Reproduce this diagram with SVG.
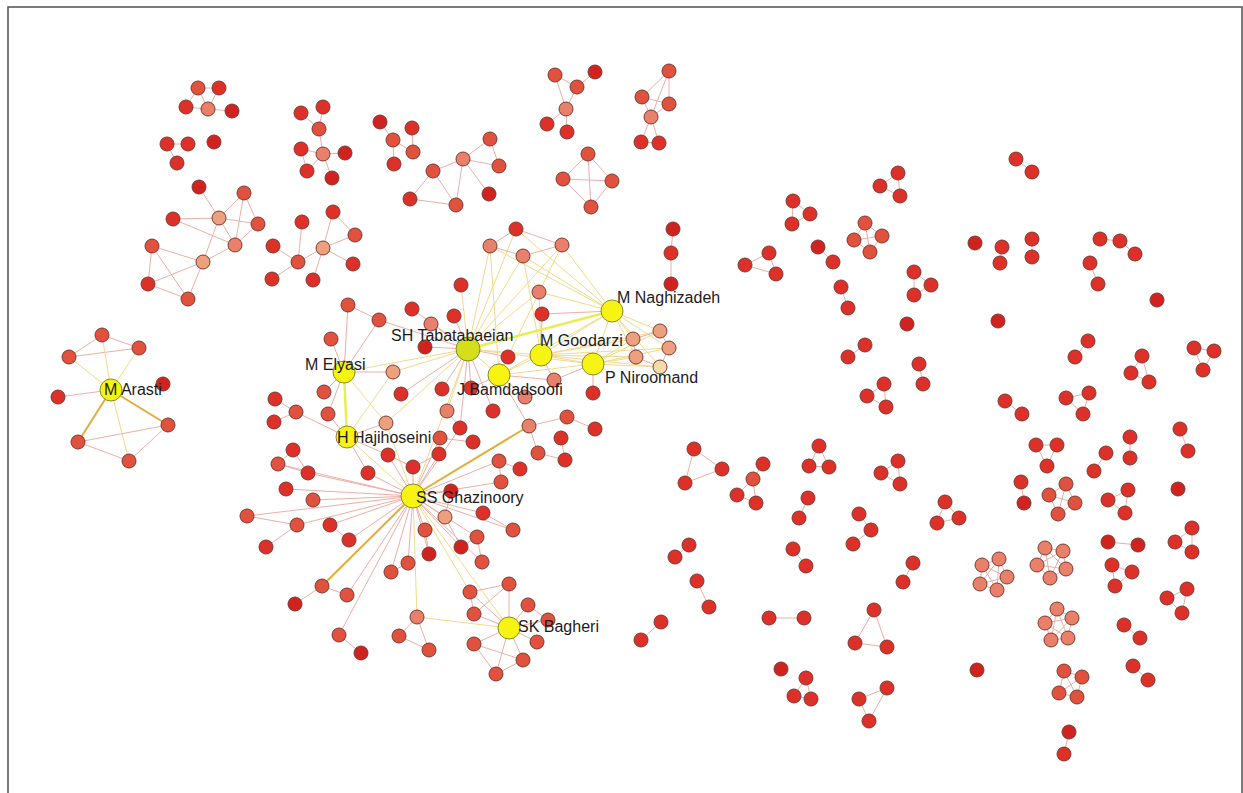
<svg xmlns="http://www.w3.org/2000/svg" width="1243" height="793" viewBox="0 0 1243 793">
<style>
.frame{fill:none;stroke:#5a5a5a;stroke-width:1.6}
line{stroke:#ecaea6;stroke-width:1}
line.y{stroke:#f2d98a}
line.Y{stroke:#e9ec52;stroke-width:2.4}
line.g{stroke:#e2ad3a;stroke-width:2}
circle{stroke:#7c3a33;stroke-width:1}
.r{fill:#dc3029}
.d{fill:#d0231f}
.o{fill:#e0513e}
.p{fill:#e8806a}
.q{fill:#eda07e}
.w{fill:#f4dca6}
.y{fill:#f7f313;stroke:#8a8a2a}
.t{fill:#d5de1d;stroke:#7f8a2a}
text{font-family:"Liberation Sans",Arial,sans-serif;font-size:16px;fill:#1b1b1b}
</style>
<rect width="1243" height="793" fill="#ffffff"/>
<rect class="frame" x="8" y="7" width="1234" height="800"/>
<g id="connectors">
<line x1="198" y1="88" x2="219" y2="88"/><line x1="198" y1="88" x2="186" y2="107"/><line x1="186" y1="107" x2="208" y2="109"/><line x1="219" y1="88" x2="208" y2="109"/><line x1="208" y1="109" x2="232" y2="111"/><line x1="198" y1="88" x2="208" y2="109"/>
<line x1="167" y1="144" x2="188" y2="144"/><line x1="167" y1="144" x2="177" y2="163"/>
<line x1="199" y1="187" x2="219" y2="218"/><line x1="244" y1="193" x2="219" y2="218"/><line x1="244" y1="193" x2="258" y2="224"/><line x1="244" y1="193" x2="235" y2="245"/><line x1="173" y1="219" x2="219" y2="218"/><line x1="173" y1="219" x2="235" y2="245"/><line x1="219" y1="218" x2="258" y2="224"/><line x1="219" y1="218" x2="235" y2="245"/><line x1="219" y1="218" x2="203" y2="262"/><line x1="258" y1="224" x2="235" y2="245"/><line x1="152" y1="246" x2="203" y2="262"/><line x1="152" y1="246" x2="148" y2="284"/><line x1="152" y1="246" x2="188" y2="299"/><line x1="148" y1="284" x2="203" y2="262"/><line x1="148" y1="284" x2="188" y2="299"/><line x1="203" y1="262" x2="188" y2="299"/><line x1="235" y1="245" x2="203" y2="262"/>
<line x1="333" y1="212" x2="355" y2="235"/><line x1="333" y1="212" x2="323" y2="248"/><line x1="355" y1="235" x2="323" y2="248"/><line x1="302" y1="222" x2="298" y2="262"/><line x1="273" y1="246" x2="298" y2="262"/><line x1="323" y1="248" x2="298" y2="262"/><line x1="323" y1="248" x2="353" y2="264"/><line x1="298" y1="262" x2="272" y2="279"/><line x1="323" y1="248" x2="313" y2="280"/>
<line x1="301" y1="113" x2="319" y2="129"/><line x1="323" y1="107" x2="319" y2="129"/><line x1="319" y1="129" x2="323" y2="154"/><line x1="301" y1="149" x2="323" y2="154"/><line x1="345" y1="153" x2="323" y2="154"/><line x1="307" y1="171" x2="323" y2="154"/><line x1="332" y1="178" x2="323" y2="154"/><line x1="301" y1="149" x2="307" y2="171"/>
<line x1="380" y1="122" x2="393" y2="140"/><line x1="412" y1="128" x2="413" y2="152"/><line x1="393" y1="140" x2="413" y2="152"/><line x1="393" y1="140" x2="394" y2="164"/>
<line x1="463" y1="159" x2="490" y2="139"/><line x1="490" y1="139" x2="499" y2="166"/><line x1="463" y1="159" x2="499" y2="166"/><line x1="463" y1="159" x2="433" y2="171"/><line x1="463" y1="159" x2="489" y2="194"/><line x1="463" y1="159" x2="456" y2="205"/><line x1="433" y1="171" x2="410" y2="199"/><line x1="433" y1="171" x2="456" y2="205"/><line x1="410" y1="199" x2="456" y2="205"/>
<line x1="555" y1="75" x2="566" y2="109"/><line x1="555" y1="75" x2="577" y2="87"/><line x1="577" y1="87" x2="595" y2="72"/><line x1="577" y1="87" x2="566" y2="109"/><line x1="566" y1="109" x2="547" y2="124"/><line x1="566" y1="109" x2="567" y2="132"/>
<line x1="588" y1="154" x2="563" y2="179"/><line x1="588" y1="154" x2="612" y2="181"/><line x1="588" y1="154" x2="591" y2="207"/><line x1="563" y1="179" x2="612" y2="181"/><line x1="563" y1="179" x2="591" y2="207"/><line x1="612" y1="181" x2="591" y2="207"/>
<line x1="669" y1="71" x2="642" y2="97"/><line x1="669" y1="71" x2="669" y2="104"/><line x1="669" y1="71" x2="651" y2="117"/><line x1="642" y1="97" x2="669" y2="104"/><line x1="669" y1="104" x2="651" y2="117"/><line x1="642" y1="97" x2="651" y2="117"/><line x1="651" y1="117" x2="641" y2="142"/><line x1="651" y1="117" x2="659" y2="143"/><line x1="641" y1="142" x2="659" y2="143"/>
<line x1="102" y1="335" x2="139" y2="348"/><line x1="69" y1="357" x2="102" y2="335"/><line x1="69" y1="357" x2="139" y2="348"/>
<line class="y" x1="111" y1="390" x2="102" y2="335"/><line class="y" x1="111" y1="390" x2="139" y2="348"/><line class="y" x1="111" y1="390" x2="69" y2="357"/><line x1="111" y1="390" x2="58" y2="397"/><line class="g" x1="111" y1="390" x2="168" y2="425"/><line class="g" x1="111" y1="390" x2="78" y2="442"/><line class="y" x1="111" y1="390" x2="129" y2="461"/>
<line x1="78" y1="442" x2="168" y2="425"/><line x1="78" y1="442" x2="129" y2="461"/><line x1="129" y1="461" x2="168" y2="425"/>
<line class="y" x1="468" y1="349" x2="461" y2="285"/><line class="y" x1="468" y1="349" x2="431" y2="324"/><line x1="468" y1="349" x2="454" y2="316"/><line x1="468" y1="349" x2="412" y2="309"/><line x1="468" y1="349" x2="425" y2="347"/><line class="y" x1="468" y1="349" x2="393" y2="372"/><line x1="468" y1="349" x2="401" y2="394"/><line x1="468" y1="349" x2="442" y2="389"/><line x1="468" y1="349" x2="471" y2="388"/><line x1="468" y1="349" x2="493" y2="411"/><line class="y" x1="468" y1="349" x2="447" y2="411"/><line class="y" x1="468" y1="349" x2="490" y2="246"/><line class="y" x1="468" y1="349" x2="516" y2="229"/><line class="y" x1="468" y1="349" x2="523" y2="256"/><line class="y" x1="468" y1="349" x2="562" y2="245"/><line class="y" x1="468" y1="349" x2="539" y2="292"/><line x1="468" y1="349" x2="508" y2="357"/><line class="y" x1="468" y1="349" x2="386" y2="423"/><line x1="468" y1="349" x2="460" y2="428"/><line x1="468" y1="349" x2="379" y2="320"/>
<line class="y" x1="612" y1="311" x2="562" y2="245"/><line class="y" x1="612" y1="311" x2="523" y2="256"/><line class="y" x1="612" y1="311" x2="539" y2="292"/><line x1="612" y1="311" x2="542" y2="314"/><line class="y" x1="612" y1="311" x2="633" y2="339"/><line class="y" x1="612" y1="311" x2="660" y2="331"/><line class="y" x1="612" y1="311" x2="669" y2="348"/><line class="y" x1="612" y1="311" x2="636" y2="357"/><line class="y" x1="612" y1="311" x2="660" y2="367"/><line class="y" x1="612" y1="311" x2="516" y2="229"/><line class="y" x1="612" y1="311" x2="490" y2="246"/>
<line class="y" x1="541" y1="355" x2="633" y2="339"/><line class="y" x1="541" y1="355" x2="660" y2="331"/><line class="y" x1="541" y1="355" x2="669" y2="348"/><line class="y" x1="541" y1="355" x2="636" y2="357"/><line class="y" x1="541" y1="355" x2="660" y2="367"/><line x1="541" y1="355" x2="554" y2="380"/><line x1="541" y1="355" x2="542" y2="314"/><line class="y" x1="541" y1="355" x2="539" y2="292"/><line class="y" x1="541" y1="355" x2="523" y2="256"/>
<line class="y" x1="593" y1="364" x2="633" y2="339"/><line class="y" x1="593" y1="364" x2="660" y2="331"/><line class="y" x1="593" y1="364" x2="669" y2="348"/><line class="y" x1="593" y1="364" x2="636" y2="357"/><line class="y" x1="593" y1="364" x2="660" y2="367"/><line x1="593" y1="364" x2="554" y2="380"/><line x1="593" y1="364" x2="593" y2="393"/>
<line x1="499" y1="375" x2="525" y2="397"/><line x1="499" y1="375" x2="554" y2="380"/><line x1="499" y1="375" x2="508" y2="357"/><line x1="499" y1="375" x2="471" y2="388"/><line x1="499" y1="375" x2="529" y2="426"/><line class="y" x1="499" y1="375" x2="562" y2="245"/><line class="y" x1="499" y1="375" x2="490" y2="246"/>
<line class="y" x1="468" y1="349" x2="541" y2="355"/><line class="y" x1="468" y1="349" x2="499" y2="375"/><line class="y" x1="468" y1="349" x2="593" y2="364"/><line class="y" x1="612" y1="311" x2="541" y2="355"/><line class="y" x1="612" y1="311" x2="499" y2="375"/><line class="y" x1="612" y1="311" x2="593" y2="364"/><line class="y" x1="541" y1="355" x2="499" y2="375"/><line class="y" x1="541" y1="355" x2="593" y2="364"/><line class="y" x1="499" y1="375" x2="593" y2="364"/>
<line x1="490" y1="246" x2="516" y2="229"/><line x1="490" y1="246" x2="523" y2="256"/><line x1="523" y1="256" x2="562" y2="245"/><line x1="516" y1="229" x2="562" y2="245"/>
<line x1="633" y1="339" x2="660" y2="331"/><line x1="633" y1="339" x2="636" y2="357"/><line x1="660" y1="331" x2="669" y2="348"/><line x1="636" y1="357" x2="660" y2="367"/><line x1="669" y1="348" x2="660" y2="367"/>
<line class="Y" x1="468" y1="349" x2="612" y2="311"/>
<line class="y" x1="468" y1="349" x2="344" y2="372"/>
<line x1="344" y1="372" x2="348" y2="305"/><line x1="344" y1="372" x2="331" y2="339"/><line x1="344" y1="372" x2="324" y2="392"/><line x1="344" y1="372" x2="328" y2="414"/><line x1="344" y1="372" x2="393" y2="372"/><line class="y" x1="344" y1="372" x2="386" y2="423"/><line x1="344" y1="372" x2="379" y2="320"/><line x1="348" y1="305" x2="379" y2="320"/>
<line class="Y" x1="344" y1="372" x2="347" y2="437"/>
<line x1="347" y1="437" x2="386" y2="423"/><line x1="347" y1="437" x2="328" y2="414"/><line x1="347" y1="437" x2="296" y2="412"/><line x1="347" y1="437" x2="388" y2="455"/><line x1="347" y1="437" x2="368" y2="473"/><line class="y" x1="347" y1="437" x2="393" y2="372"/>
<line x1="296" y1="412" x2="275" y2="399"/><line x1="296" y1="412" x2="274" y2="422"/><line x1="293" y1="450" x2="278" y2="464"/><line x1="293" y1="450" x2="308" y2="473"/><line x1="278" y1="464" x2="308" y2="473"/>
<line x1="413" y1="496" x2="308" y2="473"/><line x1="413" y1="496" x2="286" y2="489"/><line x1="413" y1="496" x2="278" y2="464"/><line x1="413" y1="496" x2="313" y2="500"/><line x1="413" y1="496" x2="330" y2="525"/><line x1="413" y1="496" x2="297" y2="525"/><line x1="413" y1="496" x2="247" y2="516"/><line x1="413" y1="496" x2="347" y2="595"/><line x1="413" y1="496" x2="339" y2="635"/><line x1="413" y1="496" x2="391" y2="572"/><line x1="413" y1="496" x2="408" y2="563"/><line x1="413" y1="496" x2="425" y2="530"/><line x1="413" y1="496" x2="429" y2="554"/><line x1="413" y1="496" x2="461" y2="547"/><line x1="413" y1="496" x2="477" y2="537"/><line x1="413" y1="496" x2="482" y2="562"/><line class="y" x1="413" y1="496" x2="417" y2="617"/><line class="y" x1="413" y1="496" x2="470" y2="592"/><line class="y" x1="413" y1="496" x2="509" y2="628"/><line x1="413" y1="496" x2="445" y2="517"/><line x1="413" y1="496" x2="451" y2="491"/><line x1="413" y1="496" x2="388" y2="455"/><line x1="413" y1="496" x2="368" y2="473"/><line x1="413" y1="496" x2="413" y2="467"/><line x1="413" y1="496" x2="439" y2="454"/><line x1="413" y1="496" x2="499" y2="461"/><line x1="413" y1="496" x2="483" y2="513"/><line x1="413" y1="496" x2="501" y2="482"/><line x1="413" y1="496" x2="440" y2="438"/><line class="y" x1="413" y1="496" x2="386" y2="423"/><line x1="413" y1="496" x2="460" y2="428"/><line class="y" x1="413" y1="496" x2="347" y2="437"/><line class="y" x1="413" y1="496" x2="468" y2="349"/><line x1="413" y1="496" x2="349" y2="540"/><line x1="413" y1="496" x2="513" y2="530"/>
<line class="g" x1="413" y1="496" x2="529" y2="426"/><line class="g" x1="413" y1="496" x2="322" y2="586"/>
<line x1="247" y1="516" x2="297" y2="525"/><line x1="297" y1="525" x2="266" y2="547"/><line x1="330" y1="525" x2="349" y2="540"/><line x1="322" y1="586" x2="347" y2="595"/><line x1="322" y1="586" x2="295" y2="604"/><line x1="339" y1="635" x2="361" y2="653"/><line x1="391" y1="572" x2="408" y2="563"/><line x1="425" y1="530" x2="429" y2="554"/><line x1="461" y1="547" x2="477" y2="537"/><line x1="477" y1="537" x2="482" y2="562"/><line x1="483" y1="513" x2="513" y2="530"/><line x1="499" y1="461" x2="520" y2="469"/><line x1="499" y1="461" x2="501" y2="482"/><line x1="529" y1="426" x2="538" y2="453"/><line x1="538" y1="453" x2="565" y2="460"/><line x1="561" y1="438" x2="565" y2="460"/><line x1="567" y1="417" x2="595" y2="429"/><line x1="529" y1="426" x2="567" y2="417"/><line x1="447" y1="411" x2="460" y2="428"/><line x1="440" y1="438" x2="473" y2="442"/><line x1="413" y1="467" x2="439" y2="454"/><line x1="388" y1="455" x2="413" y2="467"/><line x1="445" y1="517" x2="451" y2="491"/><line x1="445" y1="517" x2="461" y2="547"/>
<line x1="509" y1="628" x2="470" y2="592"/><line x1="509" y1="628" x2="509" y2="584"/><line x1="509" y1="628" x2="474" y2="614"/><line x1="509" y1="628" x2="528" y2="605"/><line x1="509" y1="628" x2="548" y2="620"/><line x1="509" y1="628" x2="537" y2="642"/><line x1="509" y1="628" x2="474" y2="644"/><line x1="509" y1="628" x2="523" y2="660"/><line x1="509" y1="628" x2="496" y2="674"/><line class="y" x1="509" y1="628" x2="417" y2="617"/>
<line x1="470" y1="592" x2="509" y2="584"/><line x1="470" y1="592" x2="474" y2="614"/><line x1="474" y1="614" x2="509" y2="584"/><line x1="528" y1="605" x2="548" y2="620"/><line x1="474" y1="644" x2="523" y2="660"/><line x1="474" y1="644" x2="496" y2="674"/><line x1="496" y1="674" x2="523" y2="660"/><line x1="417" y1="617" x2="399" y2="636"/><line x1="417" y1="617" x2="429" y2="650"/><line x1="399" y1="636" x2="429" y2="650"/>
<line x1="1016" y1="159" x2="1032" y2="172"/>
<line x1="898" y1="173" x2="880" y2="186"/><line x1="880" y1="186" x2="900" y2="196"/><line x1="898" y1="173" x2="900" y2="196"/>
<line x1="793" y1="201" x2="810" y2="214"/><line x1="810" y1="214" x2="792" y2="224"/><line x1="793" y1="201" x2="792" y2="224"/>
<line x1="865" y1="223" x2="882" y2="236"/><line x1="882" y1="236" x2="870" y2="252"/><line x1="870" y1="252" x2="854" y2="240"/><line x1="854" y1="240" x2="865" y2="223"/><line x1="865" y1="223" x2="870" y2="252"/><line x1="854" y1="240" x2="882" y2="236"/>
<line x1="818" y1="247" x2="833" y2="262"/><line x1="841" y1="287" x2="848" y2="308"/>
<line x1="769" y1="253" x2="745" y2="265"/><line x1="745" y1="265" x2="776" y2="274"/><line x1="769" y1="253" x2="776" y2="274"/>
<line x1="673" y1="229" x2="671" y2="253"/><line x1="671" y1="253" x2="671" y2="284"/>
<line x1="914" y1="272" x2="931" y2="285"/><line x1="931" y1="285" x2="914" y2="295"/><line x1="914" y1="272" x2="914" y2="295"/>
<line x1="865" y1="345" x2="848" y2="357"/><line x1="919" y1="364" x2="923" y2="384"/>
<line x1="884" y1="384" x2="867" y2="396"/><line x1="884" y1="384" x2="886" y2="407"/><line x1="867" y1="396" x2="886" y2="407"/>
<line x1="1002" y1="247" x2="1000" y2="263"/><line x1="1032" y1="239" x2="1032" y2="257"/><line x1="1100" y1="239" x2="1120" y2="241"/><line x1="1120" y1="241" x2="1135" y2="254"/><line x1="1090" y1="263" x2="1098" y2="284"/>
<line x1="1088" y1="341" x2="1075" y2="357"/>
<line x1="1142" y1="356" x2="1131" y2="373"/><line x1="1131" y1="373" x2="1149" y2="382"/><line x1="1142" y1="356" x2="1149" y2="382"/>
<line x1="1194" y1="348" x2="1214" y2="351"/><line x1="1214" y1="351" x2="1203" y2="370"/><line x1="1194" y1="348" x2="1203" y2="370"/>
<line x1="1005" y1="401" x2="1022" y2="414"/>
<line x1="1066" y1="398" x2="1089" y2="393"/><line x1="1089" y1="393" x2="1083" y2="414"/><line x1="1066" y1="398" x2="1083" y2="414"/>
<line x1="1036" y1="445" x2="1057" y2="445"/><line x1="1057" y1="445" x2="1047" y2="466"/><line x1="1036" y1="445" x2="1047" y2="466"/>
<line x1="1106" y1="453" x2="1094" y2="471"/><line x1="1130" y1="437" x2="1130" y2="458"/><line x1="1180" y1="429" x2="1188" y2="451"/><line x1="1021" y1="482" x2="1024" y2="503"/>
<line x1="1066" y1="484" x2="1049" y2="495"/><line x1="1066" y1="484" x2="1075" y2="503"/><line x1="1049" y1="495" x2="1058" y2="514"/><line x1="1075" y1="503" x2="1058" y2="514"/><line x1="1066" y1="484" x2="1058" y2="514"/><line x1="1049" y1="495" x2="1075" y2="503"/>
<line x1="1128" y1="490" x2="1108" y2="500"/><line x1="1108" y1="500" x2="1125" y2="513"/><line x1="1128" y1="490" x2="1125" y2="513"/>
<line x1="945" y1="502" x2="937" y2="523"/><line x1="937" y1="523" x2="959" y2="518"/><line x1="945" y1="502" x2="959" y2="518"/>
<line x1="1192" y1="528" x2="1175" y2="542"/><line x1="1175" y1="542" x2="1192" y2="552"/><line x1="1192" y1="528" x2="1192" y2="552"/>
<line x1="1108" y1="542" x2="1138" y2="545"/>
<line x1="1112" y1="565" x2="1132" y2="572"/><line x1="1132" y1="572" x2="1115" y2="586"/><line x1="1112" y1="565" x2="1115" y2="586"/>
<line x1="1187" y1="589" x2="1167" y2="598"/><line x1="1167" y1="598" x2="1182" y2="613"/><line x1="1187" y1="589" x2="1182" y2="613"/>
<line x1="1124" y1="625" x2="1140" y2="638"/><line x1="1133" y1="666" x2="1148" y2="680"/><line x1="1069" y1="732" x2="1064" y2="754"/>
<line x1="982" y1="565" x2="999" y2="559"/><line x1="999" y1="559" x2="1007" y2="577"/><line x1="1007" y1="577" x2="997" y2="590"/><line x1="997" y1="590" x2="980" y2="584"/><line x1="980" y1="584" x2="982" y2="565"/><line x1="982" y1="565" x2="1007" y2="577"/><line x1="999" y1="559" x2="997" y2="590"/><line x1="1007" y1="577" x2="980" y2="584"/><line x1="997" y1="590" x2="982" y2="565"/><line x1="980" y1="584" x2="999" y2="559"/>
<line x1="1045" y1="548" x2="1063" y2="551"/><line x1="1063" y1="551" x2="1066" y2="569"/><line x1="1066" y1="569" x2="1050" y2="578"/><line x1="1050" y1="578" x2="1037" y2="565"/><line x1="1037" y1="565" x2="1045" y2="548"/><line x1="1045" y1="548" x2="1066" y2="569"/><line x1="1063" y1="551" x2="1050" y2="578"/><line x1="1066" y1="569" x2="1037" y2="565"/><line x1="1050" y1="578" x2="1045" y2="548"/><line x1="1037" y1="565" x2="1063" y2="551"/>
<line x1="1057" y1="609" x2="1072" y2="618"/><line x1="1072" y1="618" x2="1068" y2="638"/><line x1="1068" y1="638" x2="1051" y2="640"/><line x1="1051" y1="640" x2="1045" y2="623"/><line x1="1045" y1="623" x2="1057" y2="609"/><line x1="1057" y1="609" x2="1068" y2="638"/><line x1="1072" y1="618" x2="1051" y2="640"/><line x1="1068" y1="638" x2="1045" y2="623"/><line x1="1051" y1="640" x2="1057" y2="609"/><line x1="1045" y1="623" x2="1072" y2="618"/>
<line x1="1064" y1="671" x2="1082" y2="677"/><line x1="1082" y1="677" x2="1077" y2="697"/><line x1="1077" y1="697" x2="1059" y2="693"/><line x1="1059" y1="693" x2="1064" y2="671"/><line x1="1064" y1="671" x2="1077" y2="697"/><line x1="1082" y1="677" x2="1059" y2="693"/>
<line x1="694" y1="449" x2="722" y2="469"/><line x1="722" y1="469" x2="685" y2="483"/><line x1="694" y1="449" x2="685" y2="483"/>
<line x1="763" y1="464" x2="753" y2="479"/><line x1="753" y1="479" x2="737" y2="495"/><line x1="753" y1="479" x2="756" y2="503"/><line x1="737" y1="495" x2="756" y2="503"/>
<line x1="819" y1="446" x2="809" y2="466"/><line x1="809" y1="466" x2="829" y2="467"/><line x1="819" y1="446" x2="829" y2="467"/>
<line x1="898" y1="461" x2="881" y2="473"/><line x1="881" y1="473" x2="900" y2="484"/><line x1="898" y1="461" x2="900" y2="484"/>
<line x1="808" y1="498" x2="799" y2="518"/><line x1="859" y1="514" x2="871" y2="530"/><line x1="871" y1="530" x2="853" y2="544"/>
<line x1="913" y1="563" x2="903" y2="582"/><line x1="689" y1="545" x2="675" y2="557"/><line x1="697" y1="581" x2="709" y2="607"/><line x1="661" y1="622" x2="641" y2="640"/><line x1="793" y1="549" x2="806" y2="566"/><line x1="769" y1="618" x2="804" y2="618"/>
<line x1="874" y1="610" x2="855" y2="643"/><line x1="855" y1="643" x2="887" y2="647"/><line x1="874" y1="610" x2="887" y2="647"/>
<line x1="806" y1="678" x2="794" y2="696"/><line x1="794" y1="696" x2="811" y2="699"/><line x1="806" y1="678" x2="811" y2="699"/>
<line x1="887" y1="688" x2="859" y2="699"/><line x1="859" y1="699" x2="869" y2="721"/><line x1="887" y1="688" x2="869" y2="721"/>
</g>
<g id="nodes">
<g id="n1"><circle class="o" cx="198" cy="88" r="7"/></g>
<g id="n2"><circle class="r" cx="219" cy="88" r="7"/></g>
<g id="n3"><circle class="r" cx="186" cy="107" r="7"/></g>
<g id="n4"><circle class="p" cx="208" cy="109" r="7"/></g>
<g id="n5"><circle class="d" cx="232" cy="111" r="7"/></g>
<g id="n6"><circle class="r" cx="167" cy="144" r="7"/></g>
<g id="n7"><circle class="r" cx="188" cy="144" r="7"/></g>
<g id="n8"><circle class="r" cx="177" cy="163" r="7"/></g>
<g id="n9"><circle class="d" cx="214" cy="142" r="7"/></g>
<g id="n10"><circle class="d" cx="199" cy="187" r="7"/></g>
<g id="n11"><circle class="o" cx="244" cy="193" r="7"/></g>
<g id="n12"><circle class="r" cx="173" cy="219" r="7"/></g>
<g id="n13"><circle class="q" cx="219" cy="218" r="7"/></g>
<g id="n14"><circle class="o" cx="258" cy="224" r="7"/></g>
<g id="n15"><circle class="o" cx="152" cy="246" r="7"/></g>
<g id="n16"><circle class="p" cx="235" cy="245" r="7"/></g>
<g id="n17"><circle class="q" cx="203" cy="262" r="7"/></g>
<g id="n18"><circle class="r" cx="148" cy="284" r="7"/></g>
<g id="n19"><circle class="o" cx="188" cy="299" r="7"/></g>
<g id="n20"><circle class="r" cx="333" cy="212" r="7"/></g>
<g id="n21"><circle class="r" cx="302" cy="222" r="7"/></g>
<g id="n22"><circle class="o" cx="355" cy="235" r="7"/></g>
<g id="n23"><circle class="r" cx="273" cy="246" r="7"/></g>
<g id="n24"><circle class="q" cx="323" cy="248" r="7"/></g>
<g id="n25"><circle class="o" cx="298" cy="262" r="7"/></g>
<g id="n26"><circle class="r" cx="353" cy="264" r="7"/></g>
<g id="n27"><circle class="r" cx="272" cy="279" r="7"/></g>
<g id="n28"><circle class="r" cx="313" cy="280" r="7"/></g>
<g id="n29"><circle class="r" cx="301" cy="113" r="7"/></g>
<g id="n30"><circle class="r" cx="323" cy="107" r="7"/></g>
<g id="n31"><circle class="o" cx="319" cy="129" r="7"/></g>
<g id="n32"><circle class="r" cx="301" cy="149" r="7"/></g>
<g id="n33"><circle class="p" cx="323" cy="154" r="7"/></g>
<g id="n34"><circle class="d" cx="345" cy="153" r="7"/></g>
<g id="n35"><circle class="r" cx="307" cy="171" r="7"/></g>
<g id="n36"><circle class="d" cx="332" cy="178" r="7"/></g>
<g id="n37"><circle class="d" cx="380" cy="122" r="7"/></g>
<g id="n38"><circle class="r" cx="412" cy="128" r="7"/></g>
<g id="n39"><circle class="o" cx="393" cy="140" r="7"/></g>
<g id="n40"><circle class="o" cx="413" cy="152" r="7"/></g>
<g id="n41"><circle class="r" cx="394" cy="164" r="7"/></g>
<g id="n42"><circle class="p" cx="463" cy="159" r="7"/></g>
<g id="n43"><circle class="o" cx="490" cy="139" r="7"/></g>
<g id="n44"><circle class="o" cx="499" cy="166" r="7"/></g>
<g id="n45"><circle class="o" cx="433" cy="171" r="7"/></g>
<g id="n46"><circle class="d" cx="489" cy="194" r="7"/></g>
<g id="n47"><circle class="r" cx="410" cy="199" r="7"/></g>
<g id="n48"><circle class="o" cx="456" cy="205" r="7"/></g>
<g id="n49"><circle class="o" cx="555" cy="75" r="7"/></g>
<g id="n50"><circle class="d" cx="595" cy="72" r="7"/></g>
<g id="n51"><circle class="o" cx="577" cy="87" r="7"/></g>
<g id="n52"><circle class="p" cx="566" cy="109" r="7"/></g>
<g id="n53"><circle class="r" cx="547" cy="124" r="7"/></g>
<g id="n54"><circle class="r" cx="567" cy="132" r="7"/></g>
<g id="n55"><circle class="o" cx="588" cy="154" r="7"/></g>
<g id="n56"><circle class="o" cx="563" cy="179" r="7"/></g>
<g id="n57"><circle class="o" cx="612" cy="181" r="7"/></g>
<g id="n58"><circle class="o" cx="591" cy="207" r="7"/></g>
<g id="n59"><circle class="o" cx="669" cy="71" r="7"/></g>
<g id="n60"><circle class="o" cx="642" cy="97" r="7"/></g>
<g id="n61"><circle class="o" cx="669" cy="104" r="7"/></g>
<g id="n62"><circle class="p" cx="651" cy="117" r="7"/></g>
<g id="n63"><circle class="r" cx="641" cy="142" r="7"/></g>
<g id="n64"><circle class="r" cx="659" cy="143" r="7"/></g>
<g id="n65"><circle class="o" cx="102" cy="335" r="7"/></g>
<g id="n66"><circle class="o" cx="139" cy="348" r="7"/></g>
<g id="n67"><circle class="o" cx="69" cy="357" r="7"/></g>
<g id="n68"><circle class="r" cx="58" cy="397" r="7"/></g>
<g id="n69"><circle class="d" cx="163" cy="384" r="7"/></g>
<g id="n70"><circle class="o" cx="168" cy="425" r="7"/></g>
<g id="n71"><circle class="o" cx="78" cy="442" r="7"/></g>
<g id="n72"><circle class="o" cx="129" cy="461" r="7"/></g>
<g id="n73"><circle class="r" cx="461" cy="285" r="7"/></g>
<g id="n74"><circle class="r" cx="412" cy="309" r="7"/></g>
<g id="n75"><circle class="r" cx="454" cy="316" r="7"/></g>
<g id="n76"><circle class="p" cx="431" cy="324" r="7"/></g>
<g id="n77"><circle class="d" cx="425" cy="347" r="7"/></g>
<g id="n78"><circle class="o" cx="348" cy="305" r="7"/></g>
<g id="n79"><circle class="o" cx="379" cy="320" r="7"/></g>
<g id="n80"><circle class="o" cx="331" cy="339" r="7"/></g>
<g id="n81"><circle class="q" cx="393" cy="372" r="7"/></g>
<g id="n82"><circle class="r" cx="401" cy="394" r="7"/></g>
<g id="n83"><circle class="r" cx="442" cy="389" r="7"/></g>
<g id="n84"><circle class="r" cx="471" cy="388" r="7"/></g>
<g id="n85"><circle class="r" cx="508" cy="357" r="7"/></g>
<g id="n86"><circle class="r" cx="542" cy="314" r="7"/></g>
<g id="n87"><circle class="p" cx="539" cy="292" r="7"/></g>
<g id="n88"><circle class="p" cx="490" cy="246" r="7"/></g>
<g id="n89"><circle class="r" cx="516" cy="229" r="7"/></g>
<g id="n90"><circle class="p" cx="523" cy="256" r="7"/></g>
<g id="n91"><circle class="p" cx="562" cy="245" r="7"/></g>
<g id="n92"><circle class="q" cx="633" cy="339" r="7"/></g>
<g id="n93"><circle class="q" cx="660" cy="331" r="7"/></g>
<g id="n94"><circle class="q" cx="669" cy="348" r="7"/></g>
<g id="n95"><circle class="q" cx="636" cy="357" r="7"/></g>
<g id="n96"><circle class="w" cx="660" cy="367" r="7"/></g>
<g id="n97"><circle class="p" cx="554" cy="380" r="7"/></g>
<g id="n98"><circle class="p" cx="525" cy="397" r="7"/></g>
<g id="n99"><circle class="r" cx="593" cy="393" r="7"/></g>
<g id="n100"><circle class="o" cx="324" cy="392" r="7"/></g>
<g id="n101"><circle class="o" cx="328" cy="414" r="7"/></g>
<g id="n102"><circle class="q" cx="386" cy="423" r="7"/></g>
<g id="n103"><circle class="p" cx="447" cy="411" r="7"/></g>
<g id="n104"><circle class="r" cx="493" cy="411" r="7"/></g>
<g id="n105"><circle class="r" cx="460" cy="428" r="7"/></g>
<g id="n106"><circle class="o" cx="440" cy="438" r="7"/></g>
<g id="n107"><circle class="r" cx="473" cy="442" r="7"/></g>
<g id="n108"><circle class="p" cx="529" cy="426" r="7"/></g>
<g id="n109"><circle class="o" cx="567" cy="417" r="7"/></g>
<g id="n110"><circle class="r" cx="595" cy="429" r="7"/></g>
<g id="n111"><circle class="r" cx="561" cy="438" r="7"/></g>
<g id="n112"><circle class="o" cx="538" cy="453" r="7"/></g>
<g id="n113"><circle class="r" cx="565" cy="460" r="7"/></g>
<g id="n114"><circle class="r" cx="275" cy="399" r="7"/></g>
<g id="n115"><circle class="o" cx="296" cy="412" r="7"/></g>
<g id="n116"><circle class="r" cx="274" cy="422" r="7"/></g>
<g id="n117"><circle class="r" cx="293" cy="450" r="7"/></g>
<g id="n118"><circle class="o" cx="278" cy="464" r="7"/></g>
<g id="n119"><circle class="r" cx="308" cy="473" r="7"/></g>
<g id="n120"><circle class="r" cx="286" cy="489" r="7"/></g>
<g id="n121"><circle class="r" cx="388" cy="455" r="7"/></g>
<g id="n122"><circle class="r" cx="413" cy="467" r="7"/></g>
<g id="n123"><circle class="r" cx="439" cy="454" r="7"/></g>
<g id="n124"><circle class="r" cx="368" cy="473" r="7"/></g>
<g id="n125"><circle class="o" cx="499" cy="461" r="7"/></g>
<g id="n126"><circle class="r" cx="520" cy="469" r="7"/></g>
<g id="n127"><circle class="o" cx="501" cy="482" r="7"/></g>
<g id="n128"><circle class="d" cx="451" cy="491" r="7"/></g>
<g id="n129"><circle class="r" cx="483" cy="513" r="7"/></g>
<g id="n130"><circle class="q" cx="445" cy="517" r="7"/></g>
<g id="n131"><circle class="o" cx="513" cy="530" r="7"/></g>
<g id="n132"><circle class="o" cx="313" cy="500" r="7"/></g>
<g id="n133"><circle class="r" cx="330" cy="525" r="7"/></g>
<g id="n134"><circle class="o" cx="297" cy="525" r="7"/></g>
<g id="n135"><circle class="o" cx="247" cy="516" r="7"/></g>
<g id="n136"><circle class="r" cx="266" cy="547" r="7"/></g>
<g id="n137"><circle class="r" cx="349" cy="540" r="7"/></g>
<g id="n138"><circle class="o" cx="322" cy="586" r="7"/></g>
<g id="n139"><circle class="o" cx="347" cy="595" r="7"/></g>
<g id="n140"><circle class="d" cx="295" cy="604" r="7"/></g>
<g id="n141"><circle class="o" cx="339" cy="635" r="7"/></g>
<g id="n142"><circle class="d" cx="361" cy="653" r="7"/></g>
<g id="n143"><circle class="o" cx="391" cy="572" r="7"/></g>
<g id="n144"><circle class="o" cx="408" cy="563" r="7"/></g>
<g id="n145"><circle class="o" cx="425" cy="530" r="7"/></g>
<g id="n146"><circle class="d" cx="429" cy="554" r="7"/></g>
<g id="n147"><circle class="d" cx="461" cy="547" r="7"/></g>
<g id="n148"><circle class="o" cx="477" cy="537" r="7"/></g>
<g id="n149"><circle class="o" cx="482" cy="562" r="7"/></g>
<g id="n150"><circle class="p" cx="417" cy="617" r="7"/></g>
<g id="n151"><circle class="o" cx="399" cy="636" r="7"/></g>
<g id="n152"><circle class="o" cx="429" cy="650" r="7"/></g>
<g id="n153"><circle class="o" cx="470" cy="592" r="7"/></g>
<g id="n154"><circle class="o" cx="509" cy="584" r="7"/></g>
<g id="n155"><circle class="o" cx="474" cy="614" r="7"/></g>
<g id="n156"><circle class="o" cx="528" cy="605" r="7"/></g>
<g id="n157"><circle class="o" cx="548" cy="620" r="7"/></g>
<g id="n158"><circle class="o" cx="537" cy="642" r="7"/></g>
<g id="n159"><circle class="o" cx="474" cy="644" r="7"/></g>
<g id="n160"><circle class="o" cx="523" cy="660" r="7"/></g>
<g id="n161"><circle class="o" cx="496" cy="674" r="7"/></g>
<g id="n162"><circle class="r" cx="1016" cy="159" r="7"/></g>
<g id="n163"><circle class="r" cx="1032" cy="172" r="7"/></g>
<g id="n164"><circle class="r" cx="898" cy="173" r="7"/></g>
<g id="n165"><circle class="r" cx="880" cy="186" r="7"/></g>
<g id="n166"><circle class="r" cx="900" cy="196" r="7"/></g>
<g id="n167"><circle class="r" cx="793" cy="201" r="7"/></g>
<g id="n168"><circle class="r" cx="810" cy="214" r="7"/></g>
<g id="n169"><circle class="r" cx="792" cy="224" r="7"/></g>
<g id="n170"><circle class="o" cx="865" cy="223" r="7"/></g>
<g id="n171"><circle class="o" cx="882" cy="236" r="7"/></g>
<g id="n172"><circle class="o" cx="870" cy="252" r="7"/></g>
<g id="n173"><circle class="o" cx="854" cy="240" r="7"/></g>
<g id="n174"><circle class="d" cx="818" cy="247" r="7"/></g>
<g id="n175"><circle class="r" cx="833" cy="262" r="7"/></g>
<g id="n176"><circle class="r" cx="841" cy="287" r="7"/></g>
<g id="n177"><circle class="r" cx="848" cy="308" r="7"/></g>
<g id="n178"><circle class="r" cx="769" cy="253" r="7"/></g>
<g id="n179"><circle class="r" cx="745" cy="265" r="7"/></g>
<g id="n180"><circle class="r" cx="776" cy="274" r="7"/></g>
<g id="n181"><circle class="d" cx="673" cy="229" r="7"/></g>
<g id="n182"><circle class="r" cx="671" cy="253" r="7"/></g>
<g id="n183"><circle class="d" cx="671" cy="284" r="7"/></g>
<g id="n184"><circle class="r" cx="914" cy="272" r="7"/></g>
<g id="n185"><circle class="r" cx="931" cy="285" r="7"/></g>
<g id="n186"><circle class="r" cx="914" cy="295" r="7"/></g>
<g id="n187"><circle class="d" cx="907" cy="324" r="7"/></g>
<g id="n188"><circle class="r" cx="865" cy="345" r="7"/></g>
<g id="n189"><circle class="r" cx="848" cy="357" r="7"/></g>
<g id="n190"><circle class="r" cx="919" cy="364" r="7"/></g>
<g id="n191"><circle class="r" cx="923" cy="384" r="7"/></g>
<g id="n192"><circle class="r" cx="884" cy="384" r="7"/></g>
<g id="n193"><circle class="r" cx="867" cy="396" r="7"/></g>
<g id="n194"><circle class="r" cx="886" cy="407" r="7"/></g>
<g id="n195"><circle class="d" cx="975" cy="243" r="7"/></g>
<g id="n196"><circle class="r" cx="1002" cy="247" r="7"/></g>
<g id="n197"><circle class="r" cx="1000" cy="263" r="7"/></g>
<g id="n198"><circle class="r" cx="1032" cy="239" r="7"/></g>
<g id="n199"><circle class="r" cx="1032" cy="257" r="7"/></g>
<g id="n200"><circle class="r" cx="1100" cy="239" r="7"/></g>
<g id="n201"><circle class="r" cx="1120" cy="241" r="7"/></g>
<g id="n202"><circle class="r" cx="1135" cy="254" r="7"/></g>
<g id="n203"><circle class="r" cx="1090" cy="263" r="7"/></g>
<g id="n204"><circle class="r" cx="1098" cy="284" r="7"/></g>
<g id="n205"><circle class="d" cx="998" cy="321" r="7"/></g>
<g id="n206"><circle class="d" cx="1157" cy="300" r="7"/></g>
<g id="n207"><circle class="r" cx="1088" cy="341" r="7"/></g>
<g id="n208"><circle class="r" cx="1075" cy="357" r="7"/></g>
<g id="n209"><circle class="r" cx="1142" cy="356" r="7"/></g>
<g id="n210"><circle class="r" cx="1131" cy="373" r="7"/></g>
<g id="n211"><circle class="r" cx="1149" cy="382" r="7"/></g>
<g id="n212"><circle class="r" cx="1194" cy="348" r="7"/></g>
<g id="n213"><circle class="r" cx="1214" cy="351" r="7"/></g>
<g id="n214"><circle class="r" cx="1203" cy="370" r="7"/></g>
<g id="n215"><circle class="r" cx="1005" cy="401" r="7"/></g>
<g id="n216"><circle class="r" cx="1022" cy="414" r="7"/></g>
<g id="n217"><circle class="r" cx="1066" cy="398" r="7"/></g>
<g id="n218"><circle class="r" cx="1089" cy="393" r="7"/></g>
<g id="n219"><circle class="r" cx="1083" cy="414" r="7"/></g>
<g id="n220"><circle class="r" cx="1036" cy="445" r="7"/></g>
<g id="n221"><circle class="r" cx="1057" cy="445" r="7"/></g>
<g id="n222"><circle class="r" cx="1047" cy="466" r="7"/></g>
<g id="n223"><circle class="r" cx="1106" cy="453" r="7"/></g>
<g id="n224"><circle class="r" cx="1094" cy="471" r="7"/></g>
<g id="n225"><circle class="r" cx="1130" cy="437" r="7"/></g>
<g id="n226"><circle class="r" cx="1130" cy="458" r="7"/></g>
<g id="n227"><circle class="r" cx="1180" cy="429" r="7"/></g>
<g id="n228"><circle class="r" cx="1188" cy="451" r="7"/></g>
<g id="n229"><circle class="r" cx="1021" cy="482" r="7"/></g>
<g id="n230"><circle class="d" cx="1024" cy="503" r="7"/></g>
<g id="n231"><circle class="o" cx="1066" cy="484" r="7"/></g>
<g id="n232"><circle class="o" cx="1049" cy="495" r="7"/></g>
<g id="n233"><circle class="o" cx="1075" cy="503" r="7"/></g>
<g id="n234"><circle class="o" cx="1058" cy="514" r="7"/></g>
<g id="n235"><circle class="r" cx="1128" cy="490" r="7"/></g>
<g id="n236"><circle class="r" cx="1108" cy="500" r="7"/></g>
<g id="n237"><circle class="r" cx="1125" cy="513" r="7"/></g>
<g id="n238"><circle class="d" cx="1178" cy="489" r="7"/></g>
<g id="n239"><circle class="r" cx="945" cy="502" r="7"/></g>
<g id="n240"><circle class="r" cx="937" cy="523" r="7"/></g>
<g id="n241"><circle class="r" cx="959" cy="518" r="7"/></g>
<g id="n242"><circle class="r" cx="1192" cy="528" r="7"/></g>
<g id="n243"><circle class="r" cx="1175" cy="542" r="7"/></g>
<g id="n244"><circle class="r" cx="1192" cy="552" r="7"/></g>
<g id="n245"><circle class="d" cx="1108" cy="542" r="7"/></g>
<g id="n246"><circle class="d" cx="1138" cy="545" r="7"/></g>
<g id="n247"><circle class="r" cx="1112" cy="565" r="7"/></g>
<g id="n248"><circle class="r" cx="1132" cy="572" r="7"/></g>
<g id="n249"><circle class="r" cx="1115" cy="586" r="7"/></g>
<g id="n250"><circle class="r" cx="1187" cy="589" r="7"/></g>
<g id="n251"><circle class="r" cx="1167" cy="598" r="7"/></g>
<g id="n252"><circle class="r" cx="1182" cy="613" r="7"/></g>
<g id="n253"><circle class="r" cx="1124" cy="625" r="7"/></g>
<g id="n254"><circle class="r" cx="1140" cy="638" r="7"/></g>
<g id="n255"><circle class="r" cx="1133" cy="666" r="7"/></g>
<g id="n256"><circle class="r" cx="1148" cy="680" r="7"/></g>
<g id="n257"><circle class="d" cx="977" cy="670" r="7"/></g>
<g id="n258"><circle class="d" cx="1069" cy="732" r="7"/></g>
<g id="n259"><circle class="r" cx="1064" cy="754" r="7"/></g>
<g id="n260"><circle class="p" cx="982" cy="565" r="7"/></g>
<g id="n261"><circle class="p" cx="999" cy="559" r="7"/></g>
<g id="n262"><circle class="p" cx="1007" cy="577" r="7"/></g>
<g id="n263"><circle class="p" cx="997" cy="590" r="7"/></g>
<g id="n264"><circle class="p" cx="980" cy="584" r="7"/></g>
<g id="n265"><circle class="p" cx="1045" cy="548" r="7"/></g>
<g id="n266"><circle class="p" cx="1063" cy="551" r="7"/></g>
<g id="n267"><circle class="p" cx="1066" cy="569" r="7"/></g>
<g id="n268"><circle class="p" cx="1050" cy="578" r="7"/></g>
<g id="n269"><circle class="p" cx="1037" cy="565" r="7"/></g>
<g id="n270"><circle class="p" cx="1057" cy="609" r="7"/></g>
<g id="n271"><circle class="p" cx="1072" cy="618" r="7"/></g>
<g id="n272"><circle class="p" cx="1068" cy="638" r="7"/></g>
<g id="n273"><circle class="p" cx="1051" cy="640" r="7"/></g>
<g id="n274"><circle class="p" cx="1045" cy="623" r="7"/></g>
<g id="n275"><circle class="o" cx="1064" cy="671" r="7"/></g>
<g id="n276"><circle class="o" cx="1082" cy="677" r="7"/></g>
<g id="n277"><circle class="o" cx="1077" cy="697" r="7"/></g>
<g id="n278"><circle class="o" cx="1059" cy="693" r="7"/></g>
<g id="n279"><circle class="r" cx="694" cy="449" r="7"/></g>
<g id="n280"><circle class="r" cx="722" cy="469" r="7"/></g>
<g id="n281"><circle class="r" cx="685" cy="483" r="7"/></g>
<g id="n282"><circle class="r" cx="763" cy="464" r="7"/></g>
<g id="n283"><circle class="o" cx="753" cy="479" r="7"/></g>
<g id="n284"><circle class="r" cx="737" cy="495" r="7"/></g>
<g id="n285"><circle class="r" cx="756" cy="503" r="7"/></g>
<g id="n286"><circle class="r" cx="819" cy="446" r="7"/></g>
<g id="n287"><circle class="r" cx="809" cy="466" r="7"/></g>
<g id="n288"><circle class="r" cx="829" cy="467" r="7"/></g>
<g id="n289"><circle class="r" cx="898" cy="461" r="7"/></g>
<g id="n290"><circle class="r" cx="881" cy="473" r="7"/></g>
<g id="n291"><circle class="r" cx="900" cy="484" r="7"/></g>
<g id="n292"><circle class="r" cx="808" cy="498" r="7"/></g>
<g id="n293"><circle class="r" cx="799" cy="518" r="7"/></g>
<g id="n294"><circle class="r" cx="859" cy="514" r="7"/></g>
<g id="n295"><circle class="r" cx="871" cy="530" r="7"/></g>
<g id="n296"><circle class="r" cx="853" cy="544" r="7"/></g>
<g id="n297"><circle class="r" cx="913" cy="563" r="7"/></g>
<g id="n298"><circle class="r" cx="903" cy="582" r="7"/></g>
<g id="n299"><circle class="r" cx="689" cy="545" r="7"/></g>
<g id="n300"><circle class="r" cx="675" cy="557" r="7"/></g>
<g id="n301"><circle class="r" cx="697" cy="581" r="7"/></g>
<g id="n302"><circle class="r" cx="709" cy="607" r="7"/></g>
<g id="n303"><circle class="r" cx="661" cy="622" r="7"/></g>
<g id="n304"><circle class="r" cx="641" cy="640" r="7"/></g>
<g id="n305"><circle class="r" cx="793" cy="549" r="7"/></g>
<g id="n306"><circle class="r" cx="806" cy="566" r="7"/></g>
<g id="n307"><circle class="r" cx="769" cy="618" r="7"/></g>
<g id="n308"><circle class="r" cx="804" cy="618" r="7"/></g>
<g id="n309"><circle class="r" cx="874" cy="610" r="7"/></g>
<g id="n310"><circle class="r" cx="855" cy="643" r="7"/></g>
<g id="n311"><circle class="r" cx="887" cy="647" r="7"/></g>
<g id="n312"><circle class="d" cx="781" cy="669" r="7"/></g>
<g id="n313"><circle class="r" cx="806" cy="678" r="7"/></g>
<g id="n314"><circle class="r" cx="794" cy="696" r="7"/></g>
<g id="n315"><circle class="r" cx="811" cy="699" r="7"/></g>
<g id="n316"><circle class="r" cx="887" cy="688" r="7"/></g>
<g id="n317"><circle class="r" cx="859" cy="699" r="7"/></g>
<g id="n318"><circle class="r" cx="869" cy="721" r="7"/></g>
<g id="hub-tabatabaeian"><circle class="t" cx="468" cy="349" r="12"/></g>
<g id="hub-naghizadeh"><circle class="y" cx="612" cy="311" r="11"/></g>
<g id="hub-goodarzi"><circle class="y" cx="541" cy="355" r="11"/></g>
<g id="hub-bamdadsoofi"><circle class="y" cx="499" cy="375" r="11"/></g>
<g id="hub-niroomand"><circle class="y" cx="593" cy="364" r="11"/></g>
<g id="hub-elyasi"><circle class="y" cx="344" cy="372" r="11"/></g>
<g id="hub-hajihoseini"><circle class="y" cx="347" cy="437" r="11"/></g>
<g id="hub-ghazinoory"><circle class="y" cx="413" cy="496" r="12"/></g>
<g id="hub-bagheri"><circle class="y" cx="509" cy="628" r="11"/></g>
<g id="hub-arasti"><circle class="y" cx="111" cy="390" r="11"/></g>
</g>
<g id="labels">
<text x="617" y="303">M Naghizadeh</text>
<text x="391" y="341">SH Tabatabaeian</text>
<text x="540" y="346">M Goodarzi</text>
<text x="305" y="370">M Elyasi</text>
<text x="457" y="395">J Bamdadsoofi</text>
<text x="605" y="383">P Niroomand</text>
<text x="337" y="443">H Hajihoseini</text>
<text x="416" y="503">SS Ghazinoory</text>
<text x="518" y="632">SK Bagheri</text>
<text x="104" y="395">M Arasti</text>
</g>
</svg>
